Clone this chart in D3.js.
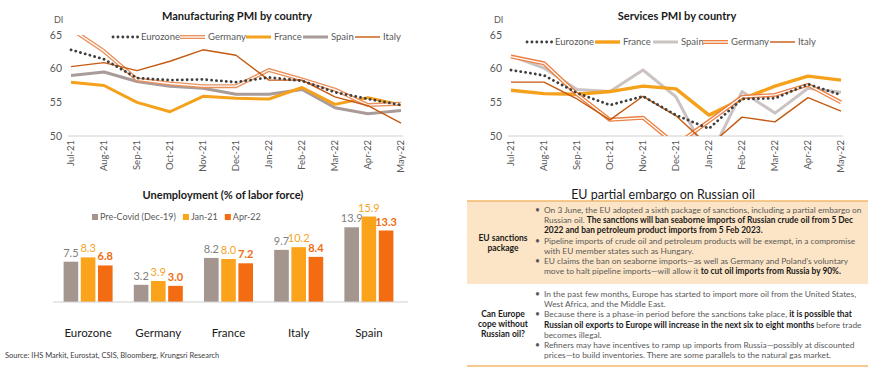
<!DOCTYPE html>
<html>
<head>
<meta charset="utf-8">
<script src="https://cdn.jsdelivr.net/npm/d3@7"></script>
<style>
  body { margin: 0; background: #fff; }
  svg { display: block; }
  text { font-family: Lato, "Open Sans", sans-serif; }
</style>
</head>
<body>
<svg id="chart" width="870" height="369"></svg>
<script>
// ---- data ----
var months = ["Jul-21", "Aug-21", "Sep-21", "Oct-21", "Nov-21", "Dec-21", "Jan-22", "Feb-22", "Mar-22", "Apr-22", "May-22"];
var pmiTicks = [50, 55, 60, 65];

// manufacturing PMI
var mfgEurozone = [62.8, 61.4, 58.6, 58.3, 58.4, 58.0, 58.7, 58.2, 56.5, 55.5, 54.6];
var mfgGermany  = [65.9, 62.6, 58.4, 57.8, 57.4, 57.4, 59.8, 58.4, 56.9, 54.6, 54.8];
var mfgFrance   = [58.0, 57.5, 55.0, 53.6, 55.9, 55.6, 55.5, 57.2, 54.7, 55.7, 54.6];
var mfgSpain    = [59.0, 59.5, 58.1, 57.4, 57.1, 56.2, 56.2, 56.9, 54.2, 53.3, 53.8];
var mfgItaly    = [60.3, 60.9, 59.7, 61.1, 62.8, 62.0, 58.3, 58.3, 55.8, 54.5, 51.9];

// services PMI
var svcEurozone = [59.8, 59.0, 56.4, 54.6, 55.9, 53.1, 51.1, 55.5, 55.6, 57.7, 56.1];
var svcFrance   = [56.8, 56.3, 56.2, 56.6, 57.4, 57.0, 53.1, 55.5, 57.4, 58.9, 58.3];
var svcSpain    = [61.9, 60.1, 56.9, 56.6, 59.8, 55.8, 46.6, 56.6, 53.4, 57.1, 56.5];
var svcGermany  = [61.8, 60.8, 56.2, 52.4, 52.7, 48.7, 52.2, 55.8, 56.1, 57.6, 55.0];
var svcItaly    = [58.0, 58.0, 55.5, 52.4, 55.9, 53.0, 48.5, 52.8, 52.1, 55.7, 53.7];

// unemployment
var countries   = ["Eurozone", "Germany", "France", "Italy", "Spain"];
var unempSeries = ["Pre-Covid (Dec-19)", "Jan-21", "Apr-22"];
var unempPreCovid = [7.5, 3.2, 8.2, 9.7, 13.9];
var unempJan21    = [8.3, 3.9, 8.0, 10.2, 15.9];
var unempApr22    = [6.8, 3.0, 7.2, 8.4, 13.3];

// table text: each line is a list of [text, bold]; "bullet" marks a new point
var sanctionsLines = [
  {bullet: true,  segs: [["On 3 June, the EU adopted a sixth package of sanctions, including a partial embargo on", 0]]},
  {bullet: false, segs: [["Russian oil. ", 0], ["The sanctions will ban seaborne imports of Russian crude oil from 5 Dec", 1]]},
  {bullet: false, segs: [["2022 and ban petroleum product imports from 5 Feb 2023.", 1]]},
  {bullet: true,  segs: [["Pipeline imports of crude oil and petroleum products will be exempt, in a compromise", 0]]},
  {bullet: false, segs: [["with EU member states such as Hungary.", 0]]},
  {bullet: true,  segs: [["EU claims the ban on seaborne imports\u2014as well as Germany and Poland\u2019s voluntary", 0]]},
  {bullet: false, segs: [["move to halt pipeline imports\u2014will allow it ", 0], ["to cut oil imports from Russia by 90%.", 1]]}
];
var copeLines = [
  {bullet: true,  segs: [["In the past few months, Europe has started to import more oil from the United States,", 0]]},
  {bullet: false, segs: [["West Africa, and the Middle East.", 0]]},
  {bullet: true,  segs: [["Because there is a phase-in period before the sanctions take place, ", 0], ["it is possible that", 1]]},
  {bullet: false, segs: [["Russian oil exports to Europe will increase in the next six to eight months", 1], [" before trade", 0]]},
  {bullet: false, segs: [["becomes illegal.", 0]]},
  {bullet: true,  segs: [["Refiners may have incentives to ramp up imports from Russia\u2014possibly at discounted", 0]]},
  {bullet: false, segs: [["prices\u2014to build inventories. There are some parallels to the natural gas market.", 0]]}
];

var svg = d3.select("#chart");
var grey = "#595959";

// line styles per series
var styles = {
  Eurozone: {color: "#3f3f3f", width: 2.8, dots: true},
  Germany:  {color: "#e8915c", width: 4, dbl: true},
  France:   {color: "#f5a11c", width: 3},
  Spain:    {color: "#a99b98", width: 3},
  Italy:    {color: "#c55a11", width: 1.4}
};

function drawPmi(opt) {
  var g = svg.append("g");
  var x = d3.scalePoint().domain(months).range([opt.left + 9, opt.left + 339]);
  var y = d3.scaleLinear().domain([50, 65]).range([136, 35]);

  g.append("text").attr("x", opt.left + 175).attr("y", 20)
    .attr("text-anchor", "middle").attr("font-size", 11).attr("font-weight", "bold")
    .attr("fill", "#1a1a1a").text(opt.title);
  g.append("text").attr("x", opt.left - 8).attr("y", 23)
    .attr("font-size", 9).attr("fill", grey).text("DI");

  // y tick labels
  g.selectAll(".yt").data(pmiTicks).enter().append("text")
    .attr("x", opt.left).attr("y", function(d) { return y(d); })
    .attr("dy", "0.35em").attr("text-anchor", "end")
    .attr("font-size", 10.5).attr("fill", grey).text(function(d) { return d; });

  // baseline
  g.append("line").attr("x1", opt.left + 6).attr("x2", opt.left + 341)
    .attr("y1", y(50)).attr("y2", y(50)).attr("stroke", "#d0d0d0").attr("stroke-width", 1);

  // month labels
  g.selectAll(".xt").data(months).enter().append("text")
    .attr("transform", function(d) { return "translate(" + x(d) + ",140) rotate(-90)"; })
    .attr("dy", "0.35em").attr("text-anchor", "end")
    .attr("font-size", 9.5).attr("fill", grey).text(function(d) { return d; });

  var clipId = "clip" + opt.left;
  svg.append("clipPath").attr("id", clipId).append("rect")
    .attr("x", opt.left).attr("y", y(65)).attr("width", 360).attr("height", y(50) - y(65));

  var line = d3.line().x(function(d, i) { return x(months[i]); }).y(function(d) { return y(d); });
  var plot = g.append("g").attr("clip-path", "url(#" + clipId + ")");

  opt.draw.forEach(function(name) {
    var st = Object.assign({}, styles[name], opt.override[name] || {});
    var vals = opt.values[name];
    addStroke(plot.append("path").datum(vals).attr("d", line), st);
  });

  // legend
  opt.legend.forEach(function(name, i) {
    var st = Object.assign({}, styles[name], opt.override[name] || {});
    var lx = opt.legendX[i];
    addStroke(g.append("path").attr("d", "M" + lx + "," + opt.legendY + "H" + (lx + 25)), st);
    g.append("text").attr("x", lx + 28).attr("y", opt.legendY).attr("dy", "0.35em")
      .attr("font-size", 9.5).attr("fill", grey).text(name);
  });
}

function addStroke(path, st) {
  path.attr("fill", "none").attr("stroke", st.color).attr("stroke-width", st.width)
    .attr("stroke-linejoin", "round");
  if (st.dots) {
    path.attr("stroke-dasharray", "0.1 4.8").attr("stroke-linecap", "round");
  }
  if (st.dbl) {
    var d = path.attr("d");
    d3.select(path.node().parentNode).append("path").attr("d", d)
      .attr("fill", "none").attr("stroke", "#fff").attr("stroke-width", 1.3)
      .attr("stroke-linejoin", "round");
  }
}

drawPmi({
  left: 62, title: "Manufacturing PMI by country",
  values: {Eurozone: mfgEurozone, Germany: mfgGermany, France: mfgFrance, Spain: mfgSpain, Italy: mfgItaly},
  draw: ["Spain", "France", "Germany", "Italy", "Eurozone"],
  legend: ["Eurozone", "Germany", "France", "Spain", "Italy"],
  legendX: [113, 180, 246, 303, 355], legendY: 37,
  override: {}
});

drawPmi({
  left: 502, title: "Services PMI by country",
  values: {Eurozone: svcEurozone, Germany: svcGermany, France: svcFrance, Spain: svcSpain, Italy: svcItaly},
  draw: ["Spain", "France", "Germany", "Italy", "Eurozone"],
  legend: ["Eurozone", "France", "Spain", "Germany", "Italy"],
  legendX: [527, 595, 653, 703, 770], legendY: 42,
  override: {Spain: {color: "#cbc3c1"}, Germany: {color: "#ec8042"}, France: {width: 3.4}}
});

// ---- unemployment bars ----
(function() {
  var g = svg.append("g");
  var x0 = d3.scaleBand().domain(countries).range([53, 404]);
  var x1 = d3.scaleBand().domain(unempSeries).range([x0.bandwidth() / 2 - 24.5, x0.bandwidth() / 2 + 24.5]).paddingInner(0.15);
  var y = d3.scaleLinear().domain([0, 16]).range([302, 216]);
  var colors = ["#a5958f", "#fba31a", "#f36c12"];
  var labelColors = ["#7f7f7f", "#f5a324", "#ef6c10"];
  var series = [unempPreCovid, unempJan21, unempApr22];

  g.append("text").attr("x", 223).attr("y", 199).attr("text-anchor", "middle")
    .attr("font-size", 11).attr("font-weight", "bold").attr("fill", "#1a1a1a")
    .text("Unemployment (% of labor force)");

  // legend laid out left to right
  var lx = 92;
  unempSeries.forEach(function(s, i) {
    g.append("rect").attr("x", lx).attr("y", 214).attr("width", 6).attr("height", 6).attr("fill", colors[i]);
    var t = g.append("text").attr("x", lx + 8).attr("y", 217).attr("dy", "0.35em")
      .attr("font-size", 9).attr("fill", grey).text(s);
    lx += 8 + t.node().getComputedTextLength() + 7;
  });

  series.forEach(function(vals, si) {
    var sg = g.append("g");
    sg.selectAll("rect").data(vals).enter().append("rect")
      .attr("x", function(d, i) { return x0(countries[i]) + x1(unempSeries[si]); })
      .attr("y", function(d) { return y(d); })
      .attr("width", x1.bandwidth())
      .attr("height", function(d) { return y(0) - y(d); })
      .attr("fill", colors[si]);
    sg.selectAll("text").data(vals).enter().append("text")
      .attr("x", function(d, i) { return x0(countries[i]) + x1(unempSeries[si]) + x1.bandwidth() / 2; })
      .attr("y", function(d) { return y(d) - 5; })
      .attr("text-anchor", "middle").attr("font-size", 11)
      .attr("font-weight", si === 2 ? "bold" : "normal")
      .attr("fill", labelColors[si]).text(function(d) { return d.toFixed(1); });
  });

  g.append("line").attr("x1", 53).attr("x2", 408).attr("y1", y(0)).attr("y2", y(0))
    .attr("stroke", "#d0d0d0").attr("stroke-width", 1);

  g.selectAll(".cat").data(countries).enter().append("text")
    .attr("x", function(d) { return x0(d) + x0.bandwidth() / 2; })
    .attr("y", 337).attr("text-anchor", "middle").attr("font-size", 11.5)
    .attr("fill", "#1a1a1a").text(function(d) { return d; });

  g.append("text").attr("x", 5).attr("y", 358).attr("font-size", 7.5).attr("fill", "#404040")
    .text("Source: IHS Markit, Eurostat, CSIS, Bloomberg, Krungsri Research");
})();

// ---- EU embargo table ----
(function() {
  var g = svg.append("g");
  g.append("text").attr("x", 663).attr("y", 199).attr("text-anchor", "middle")
    .attr("font-size", 12.5).attr("fill", "#1a1a1a").text("EU partial embargo on Russian oil");

  g.append("rect").attr("x", 467).attr("y", 201).attr("width", 401).attr("height", 83).attr("fill", "#fce5c6");
  g.append("line").attr("x1", 467).attr("x2", 868).attr("y1", 201).attr("y2", 201)
    .attr("stroke", "#f3b76a").attr("stroke-width", 1.5);
  g.append("line").attr("x1", 467).attr("x2", 868).attr("y1", 366).attr("y2", 366)
    .attr("stroke", "#f3b76a").attr("stroke-width", 1.5);

  var rows = [
    {label: ["EU sanctions", "package"], lines: sanctionsLines, top: 213, labelY: 241},
    {label: ["Can Europe", "cope without", "Russian oil?"], lines: copeLines, top: 297, labelY: 317}
  ];

  var fs = 8.5, lh = 10.2;
  // measure one full line to squeeze the text to Calibri-like width
  var probe = g.append("text").attr("font-size", fs).text(sanctionsLines[0].segs[0][0]);
  var k = 318 / probe.node().getComputedTextLength();
  probe.remove();

  rows.forEach(function(row) {
    row.label.forEach(function(t, i) {
      g.append("text").attr("x", 503).attr("y", row.labelY + i * 10).attr("text-anchor", "middle")
        .attr("font-size", 8.5).attr("font-weight", "bold").attr("fill", "#1a1a1a").text(t);
    });
    row.lines.forEach(function(ln, i) {
      var ly = row.top + i * lh;
      if (ln.bullet) {
        g.append("text").attr("x", 535).attr("y", ly).attr("font-size", fs).attr("fill", grey).text("\u2022");
      }
      var t = g.append("text").attr("transform", "translate(544," + ly + ") scale(" + k + ",1)")
        .attr("font-size", fs);
      ln.segs.forEach(function(s) {
        t.append("tspan").attr("font-weight", s[1] ? "bold" : "normal")
          .attr("fill", s[1] ? "#1a1a1a" : grey).text(s[0]);
      });
    });
  });
})();
</script>
</body>
</html>
